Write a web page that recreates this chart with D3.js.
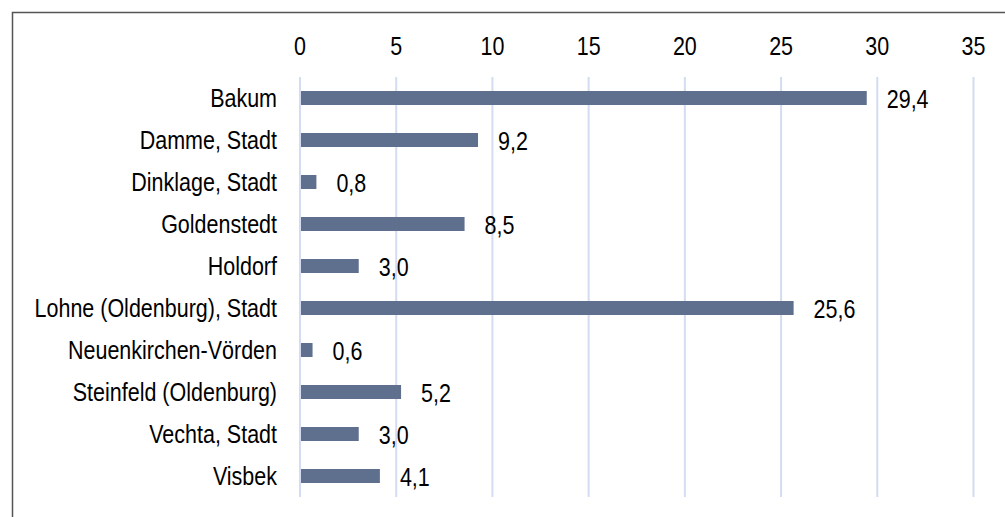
<!DOCTYPE html>
<html>
<head>
<meta charset="utf-8">
<script src="https://cdn.jsdelivr.net/npm/d3@7"></script>
<style>
  html, body { margin: 0; padding: 0; background: #fff; }
  svg { display: block; }
  text { font-family: "Liberation Sans", Arial, sans-serif; fill: #000; }
</style>
</head>
<body>
<svg id="chart" width="1005" height="517"></svg>
<script>
// Gemeinden im Landkreis Vechta und ihre Werte
const categories = [
  "Bakum", "Damme, Stadt", "Dinklage, Stadt", "Goldenstedt", "Holdorf",
  "Lohne (Oldenburg), Stadt", "Neuenkirchen-Vörden", "Steinfeld (Oldenburg)",
  "Vechta, Stadt", "Visbek"
];
const values = [29.4, 9.2, 0.8, 8.5, 3.0, 25.6, 0.6, 5.2, 3.0, 4.1];
const tickValues = [0, 5, 10, 15, 20, 25, 30, 35];

const svg = d3.select("#chart");
const W = 1005, H = 517;
const FS = 25;       // font size
const SX = 0.86;     // horizontal text compression

// Frame
svg.append("path")
  .attr("d", `M12.5,${H} L12.5,12.5 L${W},12.5`)
  .attr("fill", "none")
  .attr("stroke", "#555")
  .attr("stroke-width", 1.5);

const x = d3.scaleLinear().domain([0, 35]).range([300, 973.5]);
const y = d3.scaleBand().domain(categories).range([77, 497]).paddingInner(2/3).paddingOuter(1/3);

// Gridlines
svg.append("g").selectAll("line")
  .data(tickValues)
  .join("line")
  .attr("x1", d => x(d)).attr("x2", d => x(d))
  .attr("y1", 77).attr("y2", 497)
  .attr("stroke", "#d3dcf2")
  .attr("stroke-width", 2);

// Compressed text helper
function label(g, tx, ty, txt, anchor) {
  g.append("text")
    .attr("transform", `translate(${tx},${ty}) scale(${SX},1)`)
    .attr("text-anchor", anchor)
    .attr("dominant-baseline", "central")
    .attr("font-size", FS)
    .text(txt);
}

// Top axis labels
const axisG = svg.append("g");
tickValues.forEach(t => label(axisG, x(t), 46, String(t), "middle"));

// Category labels
const catG = svg.append("g");
categories.forEach(c => label(catG, 277, y(c) + y.bandwidth() / 2, c, "end"));

// Bars
svg.append("g").selectAll("rect")
  .data(values)
  .join("rect")
  .attr("x", x(0) + 1)
  .attr("y", (d, i) => y(categories[i]))
  .attr("width", d => x(d) - x(0))
  .attr("height", y.bandwidth())
  .attr("fill", "#5f6f8e");

// Value labels
const fmt = v => v.toFixed(1).replace(".", ",");
const valG = svg.append("g");
values.forEach((v, i) => label(valG, x(v) + 21, y(categories[i]) + y.bandwidth() / 2 + 1, fmt(v), "start"));
</script>
</body>
</html>
